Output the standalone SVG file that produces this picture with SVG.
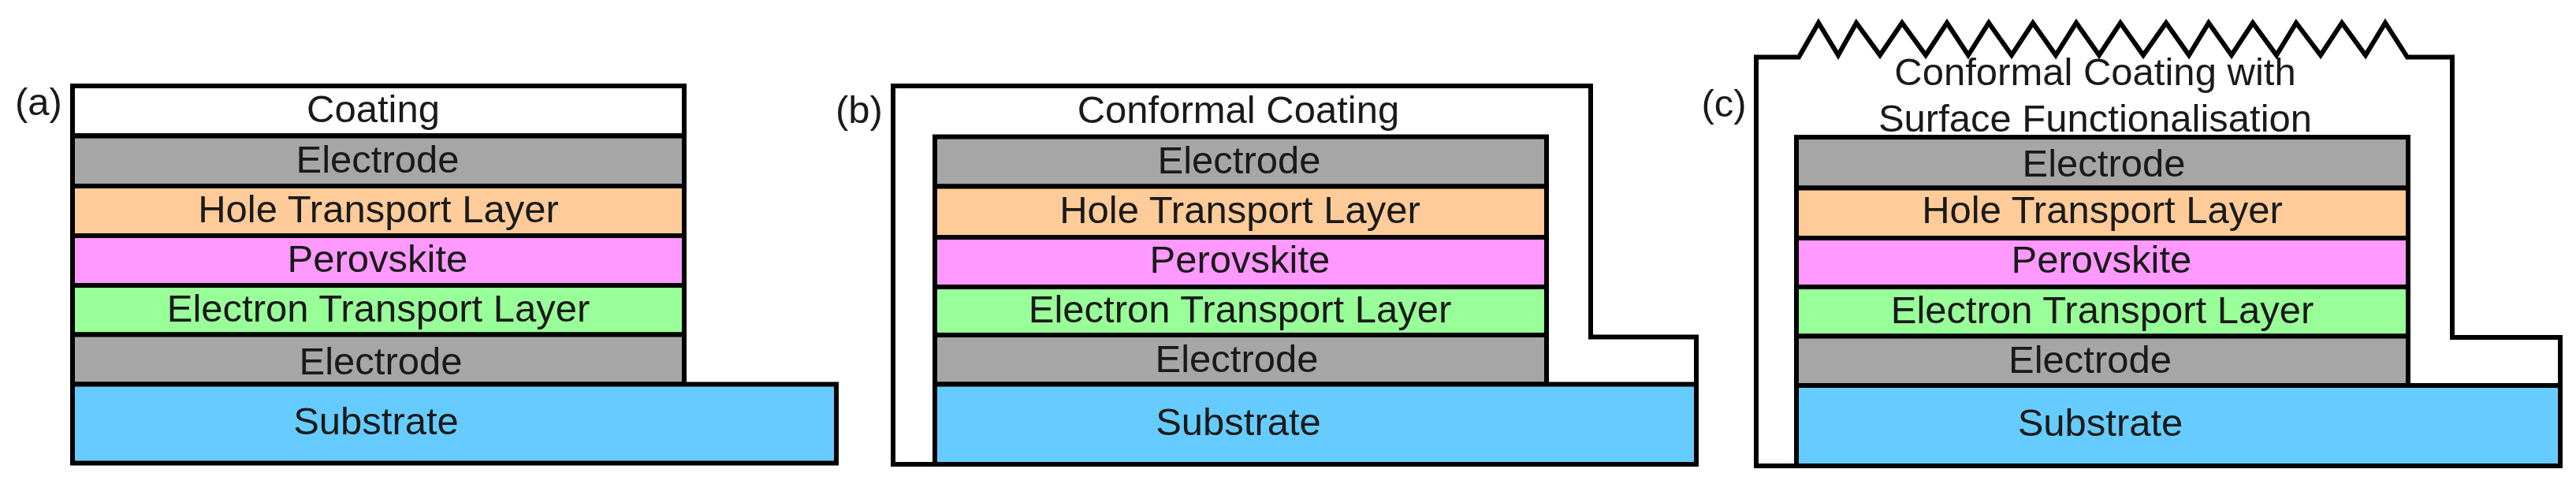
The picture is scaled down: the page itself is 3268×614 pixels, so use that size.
<svg xmlns="http://www.w3.org/2000/svg" width="3268" height="614" viewBox="0 0 3268 614">
<style>
text{font-family:"Liberation Sans",Arial,sans-serif;font-size:49px;fill:#1a1a1a;text-anchor:middle}
rect,polygon{stroke:#000;stroke-width:6}
polygon{fill:#fff;stroke-linejoin:miter}
.w{fill:#fff}.g{fill:#a6a6a6}.o{fill:#fc9}.p{fill:#f9f}.n{fill:#9f9}.b{fill:#6cf}
</style>
<rect width="3268" height="614" style="fill:#fff;stroke:none"/>
<g id="panel-a">
<text x="49" y="146">(a)</text>
<g id="a-coating"><rect class="w" x="92" y="109" width="776" height="63"/><text x="473.5" y="155">Coating</text></g>
<g id="a-electrode-top"><rect class="g" x="92" y="172.5" width="776" height="63.5"/><text x="479" y="219">Electrode</text></g>
<g id="a-htl"><rect class="o" x="92" y="236" width="776" height="63"/><text x="480" y="282">Hole Transport Layer</text></g>
<g id="a-perovskite"><rect class="p" x="92" y="299" width="776" height="63"/><text x="479" y="345">Perovskite</text></g>
<g id="a-etl"><rect class="n" x="92" y="362" width="776" height="62.5"/><text x="480" y="408">Electron Transport Layer</text></g>
<g id="a-electrode-bottom"><rect class="g" x="92" y="424.5" width="776" height="63"/><text x="483" y="475">Electrode</text></g>
<g id="a-substrate"><rect class="b" x="92" y="487.5" width="969" height="100"/><text x="477" y="551">Substrate</text></g>
</g>
<g id="panel-b">
<text x="1090" y="155.5">(b)</text>
<g id="b-coating"><polygon points="1133,589 1133,109 2018,109 2018,427.5 2152,427.5 2152,589"/><text x="1571" y="155.5">Conformal Coating</text></g>
<g id="b-electrode-top"><rect class="g" x="1186" y="173.5" width="776" height="63"/><text x="1572" y="220">Electrode</text></g>
<g id="b-htl"><rect class="o" x="1186" y="236.5" width="776" height="64.5"/><text x="1573" y="283">Hole Transport Layer</text></g>
<g id="b-perovskite"><rect class="p" x="1186" y="301" width="776" height="63"/><text x="1573" y="346">Perovskite</text></g>
<g id="b-etl"><rect class="n" x="1186" y="364" width="776" height="61"/><text x="1573" y="409">Electron Transport Layer</text></g>
<g id="b-electrode-bottom"><rect class="g" x="1186" y="425" width="776" height="62.5"/><text x="1569" y="472">Electrode</text></g>
<g id="b-substrate"><rect class="b" x="1186" y="487.5" width="966" height="101.5"/><text x="1571" y="552">Substrate</text></g>
</g>
<g id="panel-c">
<text x="2187" y="148">(c)</text>
<g id="c-coating"><polygon points="2228,591 2228,72.5 2282,72.5 2307,29 2332,70 2355,29 2385,70 2413,29 2443,70 2470,29 2497,70 2523,29 2552,70 2579,29 2608,70 2634,29 2663,70 2690,29 2719,70 2748,29 2777,70 2802,29 2831,70 2858,29 2888,70 2913,29 2944,70 2971,29 3001,70 3026,29 3054,72.5 3111,72.5 3111,428 3248,428 3248,591"/><text x="2658" y="108">Conformal Coating with</text><text x="2658" y="166.5">Surface Functionalisation</text></g>
<g id="c-electrode-top"><rect class="g" x="2279" y="174" width="776" height="64.5"/><text x="2669" y="223.5">Electrode</text></g>
<g id="c-htl"><rect class="o" x="2279" y="238.5" width="776" height="63.5"/><text x="2667" y="283">Hole Transport Layer</text></g>
<g id="c-perovskite"><rect class="p" x="2279" y="302" width="776" height="62"/><text x="2666" y="346">Perovskite</text></g>
<g id="c-etl"><rect class="n" x="2279" y="364" width="776" height="62.5"/><text x="2667" y="410">Electron Transport Layer</text></g>
<g id="c-electrode-bottom"><rect class="g" x="2279" y="426.5" width="776" height="62.5"/><text x="2651.5" y="472.5">Electrode</text></g>
<g id="c-substrate"><rect class="b" x="2279" y="489" width="969" height="102"/><text x="2664.5" y="553">Substrate</text></g>
</g>
</svg>
